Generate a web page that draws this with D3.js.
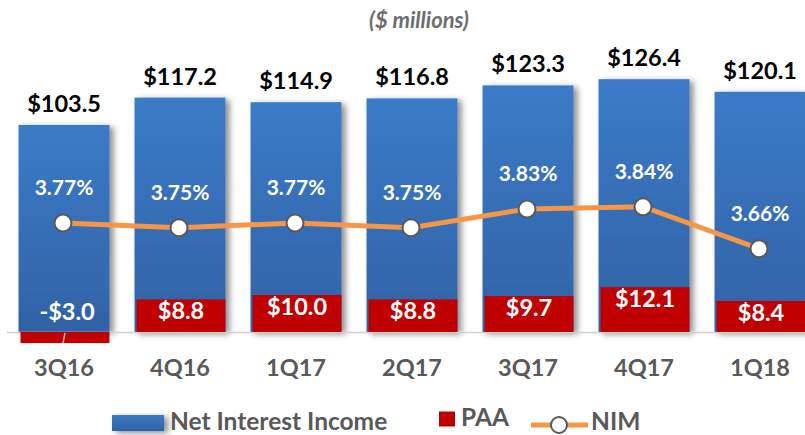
<!DOCTYPE html>
<html>
<head>
<meta charset="utf-8">
<script src="https://cdn.jsdelivr.net/npm/d3@7"></script>
<style>
  body { margin: 0; background: #fff; }
  svg { display: block; font-family: Lato, "Open Sans", sans-serif; font-weight: bold; }
</style>
</head>
<body>
<div id="chart"></div>
<script>
var quarters = ["3Q16", "4Q16", "1Q17", "2Q17", "3Q17", "4Q17", "1Q18"];
var netInterestIncome = [103.5, 117.2, 114.9, 116.8, 123.3, 126.4, 120.1];
var paa = [-3.0, 8.8, 10.0, 8.8, 9.7, 12.1, 8.4];
var nim = [3.77, 3.75, 3.77, 3.75, 3.83, 3.84, 3.66];

var width = 805, height = 435;
var zeroY = 332;

var svg = d3.select("#chart").append("svg")
    .attr("width", width)
    .attr("height", height);

var defs = svg.append("defs");
var grad = defs.append("linearGradient")
    .attr("id", "blueGrad")
    .attr("x1", 0).attr("y1", 0).attr("x2", 0).attr("y2", 1);
grad.append("stop").attr("offset", "0%").attr("stop-color", "#3b7bc8");
grad.append("stop").attr("offset", "100%").attr("stop-color", "#3262a5");

var shadow = defs.append("filter")
    .attr("id", "shadow")
    .attr("x", "-10%").attr("y", "-10%")
    .attr("width", "130%").attr("height", "130%");
shadow.append("feDropShadow")
    .attr("dx", 4).attr("dy", 2)
    .attr("stdDeviation", 3)
    .attr("flood-color", "#000")
    .attr("flood-opacity", 0.45);

var x = d3.scaleBand()
    .domain(quarters)
    .range([6, 818])
    .paddingInner(0.216)
    .paddingOuter(0.108);

// left axis for net interest income (2 px per $1M)
var yNii = d3.scaleLinear().domain([0, 100]).range([zeroY, zeroY - 200]);
// PAA drawn on its own scale
var yPaa = d3.scaleLinear().domain([0, 10]).range([zeroY, zeroY - 37]);
// NIM on secondary axis
var yNim = d3.scaleLinear().domain([3.66, 3.84]).range([248.7, 206.7]);

// title
svg.append("text")
    .attr("x", 419)
    .attr("y", 28)
    .attr("text-anchor", "middle")
    .style("font-style", "italic")
    .style("font-size", "22px")
    .style("fill", "#6d6d6d")
    .text("($ millions)");

// NII bars
svg.append("g")
    .selectAll("rect")
    .data(netInterestIncome)
    .join("rect")
    .attr("x", function (d, i) { return x(quarters[i]); })
    .attr("y", function (d) { return yNii(d); })
    .attr("width", x.bandwidth())
    .attr("height", function (d) { return zeroY - yNii(d); })
    .attr("fill", "url(#blueGrad)")
    .attr("filter", "url(#shadow)");

// baseline
svg.append("line")
    .attr("x1", 7).attr("x2", width)
    .attr("y1", zeroY + 0.5).attr("y2", zeroY + 0.5)
    .attr("stroke", "#d0d0d0")
    .attr("stroke-width", 1.5);

// PAA bars
svg.append("g")
    .selectAll("rect")
    .data(paa)
    .join("rect")
    .attr("x", function (d, i) { return x(quarters[i]) + 2; })
    .attr("y", function (d) { return Math.min(yPaa(d), zeroY); })
    .attr("width", x.bandwidth() - 2)
    .attr("height", function (d) { return Math.abs(zeroY - yPaa(d)); })
    .attr("fill", "#c00000");

// small break mark on the negative bar
paa.forEach(function (d, i) {
    if (d < 0) {
        var cx = x(quarters[i]) + x.bandwidth() / 2;
        svg.append("line")
            .attr("x1", cx + 1).attr("x2", cx - 1)
            .attr("y1", zeroY + 1).attr("y2", yPaa(d))
            .attr("stroke", "#bfbfbf")
            .attr("stroke-width", 1.5);
    }
});

// NII labels above bars
svg.append("g")
    .selectAll("text")
    .data(netInterestIncome)
    .join("text")
    .attr("x", function (d, i) { return x(quarters[i]) + x.bandwidth() / 2; })
    .attr("y", function (d) { return yNii(d) - 13; })
    .attr("text-anchor", "middle")
    .style("font-size", "23.5px")
    .style("fill", "#000")
    .text(function (d) { return "$" + d.toFixed(1); });

// PAA labels
svg.append("g")
    .selectAll("text")
    .data(paa)
    .join("text")
    .attr("x", function (d, i) { return x(quarters[i]) + x.bandwidth() / 2 + (d < 0 ? 3 : 1); })
    .attr("y", function (d) { return d < 0 ? zeroY - 12 : yPaa(d) + 20; })
    .attr("text-anchor", "middle")
    .style("font-size", "23.5px")
    .style("fill", "#fff")
    .text(function (d) { return (d < 0 ? "-$" : "$") + Math.abs(d).toFixed(1); });

// NIM line
var line = d3.line()
    .x(function (d, i) { return x(quarters[i]) + x.bandwidth() / 2 - 1; })
    .y(function (d) { return yNim(d); });

svg.append("path")
    .datum(nim)
    .attr("d", line)
    .attr("fill", "none")
    .attr("stroke", "#f79646")
    .attr("stroke-width", 5);

svg.append("g")
    .selectAll("circle")
    .data(nim)
    .join("circle")
    .attr("cx", function (d, i) { return x(quarters[i]) + x.bandwidth() / 2 - 1; })
    .attr("cy", function (d) { return yNim(d); })
    .attr("r", 8.5)
    .attr("fill", "#fff")
    .attr("stroke", "#595959")
    .attr("stroke-width", 2);

svg.append("g")
    .selectAll("text")
    .data(nim)
    .join("text")
    .attr("x", function (d, i) { return x(quarters[i]) + x.bandwidth() / 2; })
    .attr("y", function (d) { return yNim(d) - 28; })
    .attr("text-anchor", "middle")
    .style("font-size", "21px")
    .style("fill", "#fff")
    .text(function (d) { return d.toFixed(2) + "%"; });

// category axis
var xAxis = svg.append("g")
    .attr("transform", "translate(0," + zeroY + ")")
    .call(d3.axisBottom(x).tickSize(0).tickPadding(44));
xAxis.select(".domain").remove();
xAxis.selectAll("text")
    .attr("dy", 0)
    .style("font-family", "Lato, 'Open Sans', sans-serif")
    .style("font-weight", "bold")
    .style("font-size", "23.5px")
    .style("fill", "#595959");

// legend
var legend = svg.append("g");
legend.append("rect")
    .attr("x", 112).attr("y", 415)
    .attr("width", 52).attr("height", 16)
    .attr("fill", "url(#blueGrad)")
    .attr("filter", "url(#shadow)");
legend.append("text")
    .attr("x", 170).attr("y", 430)
    .style("font-size", "24.5px")
    .style("fill", "#595959")
    .text("Net Interest Income");

legend.append("rect")
    .attr("x", 439).attr("y", 411.5)
    .attr("width", 16).attr("height", 15)
    .attr("fill", "#c00000");
legend.append("text")
    .attr("x", 461).attr("y", 426)
    .style("font-size", "24.5px")
    .style("fill", "#595959")
    .text("PAA");

legend.append("line")
    .attr("x1", 531).attr("x2", 588)
    .attr("y1", 425).attr("y2", 425)
    .attr("stroke", "#f79646")
    .attr("stroke-width", 5);
legend.append("circle")
    .attr("cx", 559).attr("cy", 425)
    .attr("r", 8)
    .attr("fill", "#fff")
    .attr("stroke", "#595959")
    .attr("stroke-width", 2);
legend.append("text")
    .attr("x", 591).attr("y", 430)
    .style("font-size", "24.5px")
    .style("fill", "#595959")
    .text("NIM");
</script>
</body>
</html>
